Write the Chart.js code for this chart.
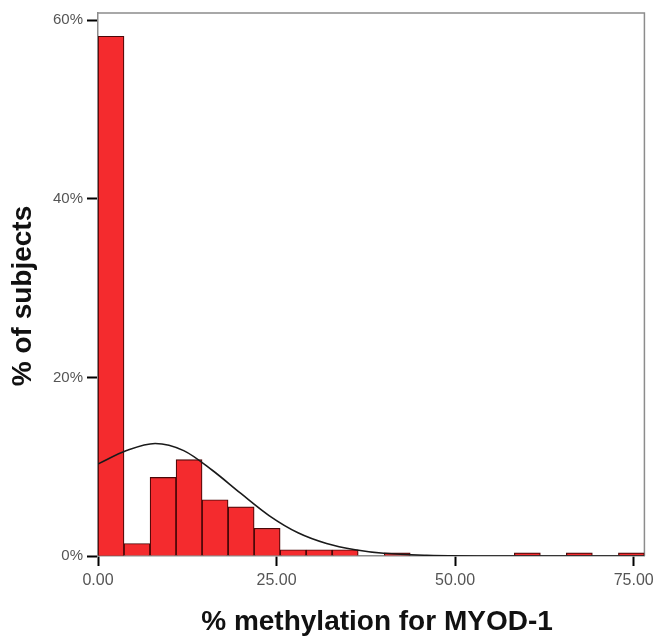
<html lang="en">
<head>
    <meta charset="UTF-8">
    <title>MYOD-1 methylation</title>
    <style>
        body { margin: 0; background: #fff; }
        #wrap { width: 659px; height: 644px; position: relative; }
    </style>
</head>
<body>
    <div id="wrap">
        <canvas id="histChart"></canvas>
    </div>

    <script src="https://cdn.jsdelivr.net/npm/chart.js"></script>
    <script>
        // histogram bins (centre of each bin, % methylation)
        const binCenters = [1.82, 5.46, 9.11, 12.75, 16.39, 20.04, 23.68, 27.32, 30.96, 34.61, 38.25,
                            41.89, 45.54, 49.18, 52.82, 56.46, 60.11, 63.75, 67.39, 71.04, 74.68];
        // % of subjects in each bin (null = empty bin)
        const pctSubjects = [58.2, 1.4, 8.8, 10.8, 6.3, 5.5, 3.1, 0.7, 0.7, 0.7, null,
                             0.35, null, null, null, null, 0.35, null, 0.35, null, 0.35];
        // normal curve
        const curveX = [0, 4, 8, 12, 16, 20, 24, 28, 32, 36, 40, 46, 56, 76.5];
        const curveY = [10.3, 11.8, 12.6, 11.8, 9.6, 7.0, 4.5, 2.6, 1.4, 0.7, 0.3, 0.08, 0, 0];
        const xTicks = [0, 25, 50, 75];
        const yTicks = [0, 20, 40, 60];

        const fontFam = "Arial, 'Liberation Sans', sans-serif";

        const framePlugin = {
            id: 'frame',
            beforeDatasetsDraw(chart) {
                const { ctx, chartArea: a } = chart;
                ctx.save();
                ctx.strokeStyle = '#8c8c8c';
                ctx.lineWidth = 1.5;
                ctx.beginPath();
                ctx.moveTo(a.left, a.top);
                ctx.lineTo(a.right, a.top);
                ctx.lineTo(a.right, a.bottom);
                ctx.stroke();
                ctx.restore();
            },
            afterDraw(chart) {
                const { ctx } = chart;
                ctx.save();
                ctx.fillStyle = '#111';
                ctx.font = 'bold 28px ' + fontFam;
                ctx.textAlign = 'center';
                ctx.textBaseline = 'middle';
                ctx.fillText('% methylation for MYOD-1', 377, 622);
                ctx.translate(23, 296);
                ctx.rotate(-Math.PI / 2);
                ctx.fillText('% of subjects', 0, 0);
                ctx.restore();
            }
        };

        const ctx = document.getElementById('histChart').getContext('2d');
        const chart = new Chart(ctx, {
            type: 'bar',
            data: {
                datasets: [{
                    type: 'line',
                    data: curveX.map((x, i) => ({ x: x, y: curveY[i] })),
                    borderColor: '#1a1a1a',
                    borderWidth: 1.6,
                    pointRadius: 0,
                    cubicInterpolationMode: 'monotone',
                    order: 0
                }, {
                    data: binCenters.map((x, i) => ({ x: x, y: pctSubjects[i] })),
                    backgroundColor: '#f42b2e',
                    borderColor: '#4a0808',
                    borderWidth: 1.2,
                    barPercentage: 1,
                    categoryPercentage: 1,
                    order: 1
                }]
            },
            options: {
                responsive: true,
                maintainAspectRatio: false,
                animation: false,
                layout: { padding: { left: 0, right: 14, top: 10, bottom: 0 } },
                plugins: {
                    legend: { display: false },
                    tooltip: { enabled: false }
                },
                scales: {
                    x: {
                        type: 'linear',
                        min: 0,
                        max: 76.5,
                        offset: false,
                        afterFit: s => { s.height = 88; },
                        afterBuildTicks: s => { s.ticks = xTicks.map(v => ({ value: v })); },
                        grid: { drawOnChartArea: false, offset: false, tickLength: 10, tickColor: '#000', tickWidth: 2 },
                        border: { color: '#8c8c8c', width: 1.5 },
                        ticks: {
                            padding: 5,
                            color: '#555',
                            font: { family: fontFam, size: 16 },
                            maxRotation: 0,
                            callback: v => v.toFixed(2)
                        }
                    },
                    y: {
                        min: 0,
                        max: 60.8,
                        afterFit: s => { s.width = 98; },
                        afterBuildTicks: s => { s.ticks = yTicks.map(v => ({ value: v })); },
                        grid: { drawOnChartArea: false, tickLength: 11, tickColor: '#000', tickWidth: 2 },
                        border: { color: '#8c8c8c', width: 1.5 },
                        ticks: {
                            padding: 4,
                            color: '#555',
                            font: { family: fontFam, size: 15 },
                            callback: v => v + '%'
                        }
                    }
                }
            },
            plugins: [framePlugin]
        });
    </script>
</body>
</html>
